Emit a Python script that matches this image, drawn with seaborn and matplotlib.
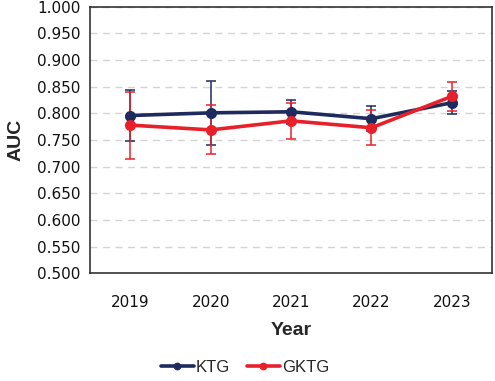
import numpy as np
import pandas as pd
import matplotlib
matplotlib.use("Agg")
import matplotlib.pyplot as plt
import seaborn as sns

years = [2019, 2020, 2021, 2022, 2023]
ktg = [0.796, 0.801, 0.803, 0.790, 0.820]
ktg_sd = [0.048, 0.060, 0.023, 0.024, 0.022]
gktg = [0.778, 0.769, 0.786, 0.773, 0.832]
gktg_sd = [0.063, 0.046, 0.034, 0.033, 0.027]

colors = {"KTG": "#1f2a5e", "GKTG": "#e8202a"}

df = pd.DataFrame({
    "Year": years * 2,
    "AUC": ktg + gktg,
    "sd": ktg_sd + gktg_sd,
    "group": ["KTG"] * 5 + ["GKTG"] * 5,
})

sns.set_style("white")
plt.rcParams["font.family"] = ["DejaVu Sans"]

fig = plt.figure(figsize=(4.95, 3.81), dpi=100)
ax = fig.add_axes([0.182, 0.283, 0.812, 0.699])

for g in ["KTG", "GKTG"]:
    d = df[df["group"] == g]
    ax.errorbar(d["Year"], d["AUC"], yerr=d["sd"], fmt="none",
                ecolor=colors[g], elinewidth=1.1, capsize=3.5, capthick=1.1, zorder=3)

sns.lineplot(data=df, x="Year", y="AUC", hue="group", hue_order=["KTG", "GKTG"],
             palette=colors, marker="o", markersize=8, markeredgewidth=0,
             linewidth=2.6, ax=ax, zorder=4)

ax.set_xlim(2018.5, 2023.5)
ax.set_ylim(0.5, 1.0)
ax.set_xticks(years)
ax.set_yticks(np.arange(0.5, 1.0001, 0.05))
ax.set_yticklabels([f"{v:.3f}" for v in np.arange(0.5, 1.0001, 0.05)])
ax.yaxis.grid(True, color="#d4d4d4", linestyle=(0, (5, 4)), linewidth=1)
ax.set_axisbelow(True)

for s in ax.spines.values():
    s.set_color("#333333")
    s.set_linewidth(1.2)

ax.tick_params(axis="both", labelsize=11, direction="out", length=4,
               width=1.1, color="#333333", labelcolor="#111111", pad=3)
ax.tick_params(axis="x", pad=12)

ax.set_xlabel("Year", fontsize=14, fontweight="bold", family="Liberation Sans", labelpad=8)
ax.set_ylabel("AUC", fontsize=14, fontweight="bold", family="Liberation Sans", labelpad=9)

h, l = ax.get_legend_handles_labels()
ax.legend(h, l, loc="center", bbox_to_anchor=(0.385, -0.355), ncol=2, frameon=False,
          prop={"family": "Liberation Sans", "size": 12}, handlelength=2.0,
          handletextpad=0.1, columnspacing=1.0, markerscale=0.7)

fig.savefig("out.png", dpi=100)
